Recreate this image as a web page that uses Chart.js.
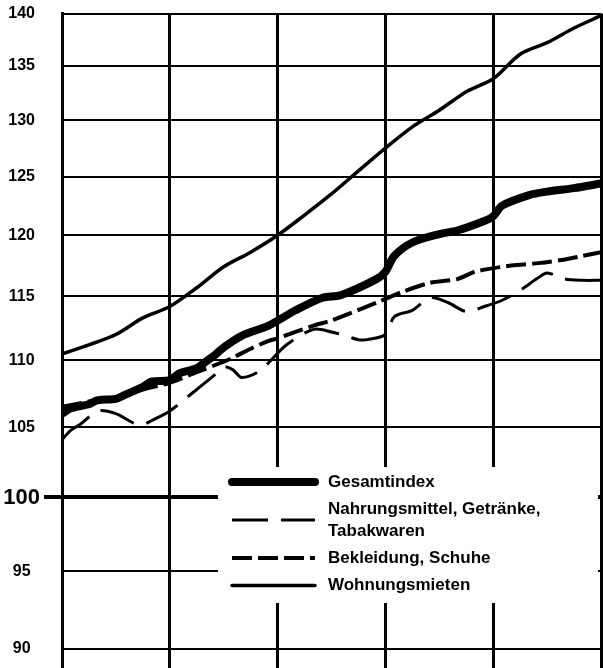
<!DOCTYPE html>
<html lang="de">
<head>
<meta charset="UTF-8">
<title>Preisindex für die Lebenshaltung</title>
<script src="https://cdn.jsdelivr.net/npm/chart.js"></script>
<style>
    html, body { margin: 0; padding: 0; background: #fff; }
    #wrap { width: 603px; height: 668px; }
</style>
</head>
<body>
<div id="wrap"><canvas id="chart" width="603" height="668"></canvas></div>
<script>
// y-Achse (logarithmisch), Monate 0..60 auf der x-Achse
const yTicks = [90, 95, 100, 105, 110, 115, 120, 125, 130, 135, 140];
const legendLabels = [
    ['Gesamtindex'],
    ['Nahrungsmittel, Getränke,', 'Tabakwaren'],
    ['Bekleidung, Schuhe'],
    ['Wohnungsmieten']
];

const gesamtMonths = [0, 1, 3, 4, 6, 7, 9, 10, 12, 13, 15, 16, 17, 18, 20, 23, 26, 29, 31, 35, 36, 37, 39, 42, 44, 47, 48, 49, 52, 54, 57, 60];
const gesamtValues = [106.0, 106.4, 106.7, 107.0, 107.1, 107.4, 108.0, 108.4, 108.5, 109.0, 109.4, 109.9, 110.4, 111.0, 111.9, 112.7, 113.9, 114.9, 115.1, 116.4, 117.0, 118.3, 119.4, 120.1, 120.4, 121.2, 121.6, 122.5, 123.4, 123.7, 124.0, 124.4];

const nahrungMonths = [0, 1, 2, 4, 6, 8, 9, 10, 12, 15, 17, 18, 19, 20, 22, 25, 28, 30, 32, 33, 34, 36, 37, 39, 41, 43, 45, 47, 49, 51, 53, 54, 56, 58, 60];
const nahrungValues = [104.1, 104.8, 105.2, 106.2, 106.0, 105.3, 105.2, 105.5, 106.2, 107.8, 108.9, 109.5, 109.3, 108.7, 109.2, 111.2, 112.4, 112.2, 111.8, 111.6, 111.6, 112.0, 113.4, 113.9, 114.9, 114.5, 113.8, 114.2, 114.7, 115.5, 116.5, 116.9, 116.4, 116.3, 116.3];

const bekleidungMonths = [0, 3, 6, 9, 12, 15, 18, 19, 21, 23, 24, 28, 30, 35, 38, 41, 44, 46, 50, 53, 56, 58, 60];
const bekleidungValues = [106.5, 106.9, 107.2, 107.8, 108.3, 109.1, 109.9, 110.2, 110.9, 111.5, 111.7, 112.7, 113.1, 114.5, 115.4, 116.1, 116.4, 117.0, 117.5, 117.7, 118.0, 118.3, 118.6];

const mietenMonths = [0, 3, 6, 9, 12, 15, 18, 21, 24, 27, 30, 33, 36, 39, 42, 45, 48, 51, 54, 57, 60];
const mietenValues = [110.5, 111.2, 112.0, 113.3, 114.2, 115.7, 117.4, 118.6, 120.0, 121.7, 123.5, 125.5, 127.5, 129.4, 130.9, 132.6, 133.8, 136.1, 137.2, 138.6, 139.8];

function pts(months, values) {
    return months.map((m, i) => ({ x: m, y: values[i] }));
}

const FONT = '"Liberation Sans", Arial, Helvetica, sans-serif';

// Legende im Diagramm, weißer Kasten über dem Gitter
const innerLegend = {
    id: 'innerLegend',
    beforeDatasetsDraw(chart) {
        const ctx = chart.ctx;
        ctx.save();
        ctx.fillStyle = '#fff';
        ctx.fillRect(218, 467, 380, 136);

        const rows = [482, 520, 558, 585.5];
        const textRows = [[482], [509, 531.5], [558], [585]];
        chart.data.datasets.forEach((ds, i) => {
            ctx.strokeStyle = '#000';
            ctx.lineWidth = ds.borderWidth;
            ctx.lineCap = ds.borderDash.length ? 'butt' : 'round';
            ctx.setLineDash(ds.borderDash);
            ctx.beginPath();
            ctx.moveTo(232, rows[i]);
            ctx.lineTo(315, rows[i]);
            ctx.stroke();

            ctx.setLineDash([]);
            ctx.fillStyle = '#000';
            ctx.font = 'bold 17px ' + FONT;
            ctx.textBaseline = 'middle';
            ctx.textAlign = 'left';
            legendLabels[i].forEach((line, j) => {
                ctx.fillText(line, 328, textRows[i][j]);
            });
        });
        ctx.restore();
    }
};

const is100 = c => c.tick && c.tick.value === 100;

new Chart(document.getElementById('chart'), {
    type: 'line',
    data: {
        datasets: [
            {
                label: 'Gesamtindex',
                data: pts(gesamtMonths, gesamtValues),
                borderColor: '#000',
                borderWidth: 8,
                borderDash: [],
                borderCapStyle: 'round',
                borderJoinStyle: 'round',
                tension: 0.3
            },
            {
                label: 'Nahrungsmittel, Getränke, Tabakwaren',
                data: pts(nahrungMonths, nahrungValues),
                borderColor: '#000',
                borderWidth: 3,
                borderDash: [36, 13],
                borderCapStyle: 'butt',
                tension: 0.3
            },
            {
                label: 'Bekleidung, Schuhe',
                data: pts(bekleidungMonths, bekleidungValues),
                borderColor: '#000',
                borderWidth: 4,
                borderDash: [20, 6],
                borderCapStyle: 'butt',
                tension: 0.3
            },
            {
                label: 'Wohnungsmieten',
                data: pts(mietenMonths, mietenValues),
                borderColor: '#000',
                borderWidth: 3.5,
                borderDash: [],
                borderCapStyle: 'round',
                tension: 0.3
            }
        ]
    },
    options: {
        responsive: false,
        animation: false,
        elements: { point: { radius: 0 } },
        layout: { padding: { top: 12, right: 2, left: 0, bottom: 0 } },
        plugins: {
            legend: { display: false },
            tooltip: { enabled: false }
        },
        scales: {
            x: {
                type: 'linear',
                min: 0,
                max: 60,
                ticks: { stepSize: 12, display: false },
                grid: {
                    color: '#000',
                    lineWidth: 3,
                    drawTicks: true,
                    tickLength: 19,
                    tickColor: '#000',
                    tickWidth: 3
                },
                border: { display: true, color: '#000', width: 2 },
                afterFit(s) { s.height = 19; }
            },
            y: {
                type: 'logarithmic',
                min: 90,
                max: 140,
                afterBuildTicks(s) { s.ticks = yTicks.map(v => ({ value: v })); },
                ticks: {
                    color: '#000',
                    crossAlign: 'center',
                    padding: 4,
                    font: c => ({ family: FONT, weight: 'bold', size: is100(c) ? 22 : 16 }),
                    callback: v => String(v)
                },
                grid: {
                    color: '#000',
                    lineWidth: c => is100(c) ? 4 : 2,
                    drawTicks: true,
                    tickLength: 18,
                    tickColor: c => is100(c) ? '#000' : 'rgba(0,0,0,0)',
                    tickWidth: 4
                },
                border: { color: '#000', width: 3 },
                afterFit(s) { s.width = 62; }
            }
        }
    },
    plugins: [innerLegend]
});
</script>
</body>
</html>
